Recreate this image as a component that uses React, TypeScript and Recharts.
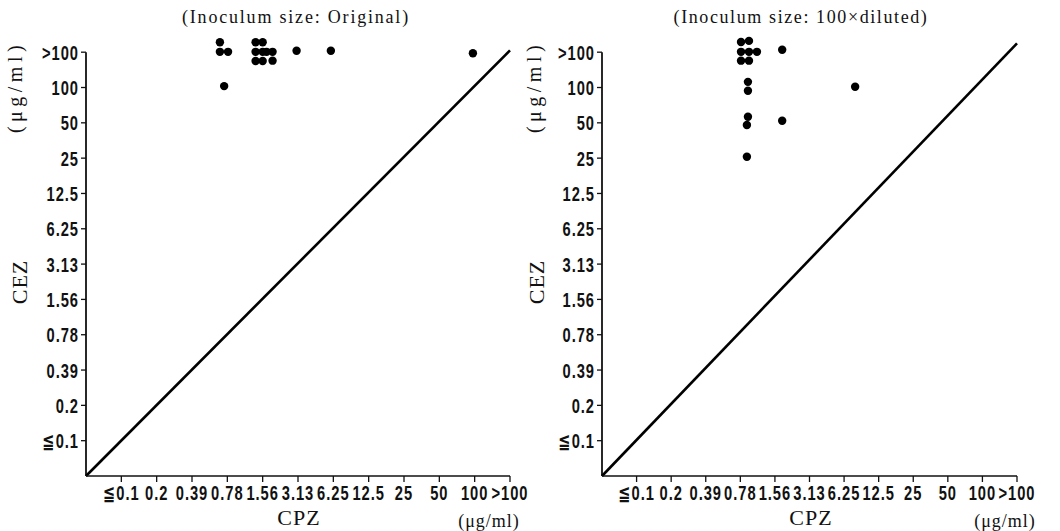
import { ScatterChart, Scatter, XAxis, YAxis, ReferenceLine } from "recharts";

// MIC steps shared by both axes (step 1 = ≦0.1 ... step 12 = >100)
const micLabels = ["≦0.1", "0.2", "0.39", "0.78", "1.56", "3.13", "6.25", "12.5", "25", "50", "100", ">100"];

// dot positions, in MIC steps (clusters are spread around a step)
const origCPZ = [3.79, 4.02, 3.79, 3.91, 4.8, 5.0, 4.8, 5.0, 5.11, 5.28, 4.8, 5.0, 5.28, 5.96, 6.93, 10.95];
const origCEZ = [12.28, 12.01, 12.01, 11.04, 12.28, 12.28, 12.01, 12.01, 12.01, 12.01, 11.75, 11.75, 11.76, 12.04, 12.04, 11.97];

const dilCPZ = [4.02, 4.25, 4.02, 4.25, 4.48, 4.02, 4.25, 5.21, 4.22, 4.22, 7.32, 4.22, 4.19, 5.21, 4.19];
const dilCEZ = [12.29, 12.32, 12.01, 12.01, 12.01, 11.76, 11.76, 12.07, 11.16, 10.91, 11.02, 10.17, 9.94, 10.06, 9.04];

const steps = micLabels.map((_, i) => i + 1);

const tickFont = "'Liberation Sans', 'DejaVu Sans', sans-serif";
const serif = "'Liberation Serif', 'DejaVu Serif', serif";
const ink = "#111";

// the printed tick numbers are a tall, condensed face: squeeze a regular sans horizontally
function CondTick(props: any) {
  const { x, y, payload, textAnchor, axis } = props;
  return (
    <g transform={`translate(${x},${y})`}>
      <text
        transform="scale(0.7,1)"
        textAnchor={textAnchor}
        dy={axis === "x" ? 15 : 7.5}
        fontSize={21}
        fontWeight={700}
        fontFamily={tickFont}
        letterSpacing={1.4}
        fill={ink}
      >
        {micLabels[payload.value - 1]}
      </text>
    </g>
  );
}

type PanelProps = {
  xs: number[];
  ys: number[];
  left: number;
  yAxisWidth: number;
  marginRight: number;
  lineTop: number;
};

function Dot(p: any) {
  return <circle cx={p.cx} cy={p.cy} r={4.2} fill="#000" />;
}

function Panel({ xs, ys, left, yAxisWidth, marginRight, lineTop }: PanelProps) {
  const data = xs.map((x, i) => ({ cpz: x, cez: ys[i] }));
  return (
    <div style={{ position: "absolute", left, top: 0 }}>
      <ScatterChart width={530} height={531} margin={{ top: 31, right: marginRight, bottom: 25, left: 0 }}>
        <XAxis
          type="number"
          dataKey="cpz"
          domain={[0, 12]}
          ticks={steps}
          interval={0}
          height={30}
          tickSize={6}
          tickMargin={3}
          axisLine={{ stroke: ink, strokeWidth: 1.6 }}
          tickLine={{ stroke: ink, strokeWidth: 1.3 }}
          tick={(p: any) => <CondTick {...p} axis="x" />}
        />
        <YAxis
          type="number"
          dataKey="cez"
          domain={[0, 12.6]}
          ticks={steps}
          interval={0}
          width={yAxisWidth}
          tickSize={5}
          tickMargin={2}
          axisLine={false}
          tickLine={{ stroke: ink, strokeWidth: 1.3 }}
          tick={(p: any) => <CondTick {...p} axis="y" />}
        />
        <ReferenceLine segment={[{ x: 0, y: 0 }, { x: 0, y: 12 }]} stroke={ink} strokeWidth={1.8} />
        <ReferenceLine segment={[{ x: 0, y: 0 }, { x: 12, y: lineTop }]} stroke="#000" strokeWidth={2.6} />
        <Scatter data={data} shape={Dot} fill="#000" isAnimationActive={false} />
      </ScatterChart>
    </div>
  );
}

function Txt({ x, y, size, text, rotate, spacing }: { x: number; y: number; size: number; text: string; rotate?: boolean; spacing?: number }) {
  return (
    <div
      style={{
        position: "absolute",
        left: x,
        top: y,
        transform: `translate(-50%, -50%)${rotate ? " rotate(-90deg)" : ""}`,
        fontFamily: serif,
        fontSize: size,
        letterSpacing: spacing ?? 1,
        whiteSpace: "nowrap",
        color: ink,
        lineHeight: 1,
      }}
    >
      {text}
    </div>
  );
}

export default function App() {
  return (
    <div style={{ position: "absolute", left: 0, top: 0, width: 1060, height: 531, background: "#fff", overflow: "hidden" }}>
      <Panel xs={origCPZ} ys={origCEZ} left={0} yAxisWidth={86} marginRight={20} lineTop={12.05} />
      <Panel xs={dilCPZ} ys={dilCEZ} left={530} yAxisWidth={72} marginRight={43} lineTop={12.25} />

      <Txt x={296} y={17} size={18} text="(Inoculum size: Original)" spacing={1.8} />
      <Txt x={801} y={17} size={18} text="(Inoculum size: 100×diluted)" spacing={1.6} />

      <Txt x={20} y={282} size={22} text="CEZ" rotate />
      <Txt x={15} y={87} size={20} text="(μg/ml)" rotate spacing={4.5} />
      <Txt x={537} y={282} size={22} text="CEZ" rotate />
      <Txt x={534} y={87} size={20} text="(μg/ml)" rotate spacing={4.5} />

      <Txt x={299} y={518} size={22} text="CPZ" />
      <Txt x={489} y={521} size={18} text="(μg/ml)" />
      <Txt x={811} y={518} size={22} text="CPZ" />
      <Txt x={1005} y={521} size={18} text="(μg/ml)" />
    </div>
  );
}
